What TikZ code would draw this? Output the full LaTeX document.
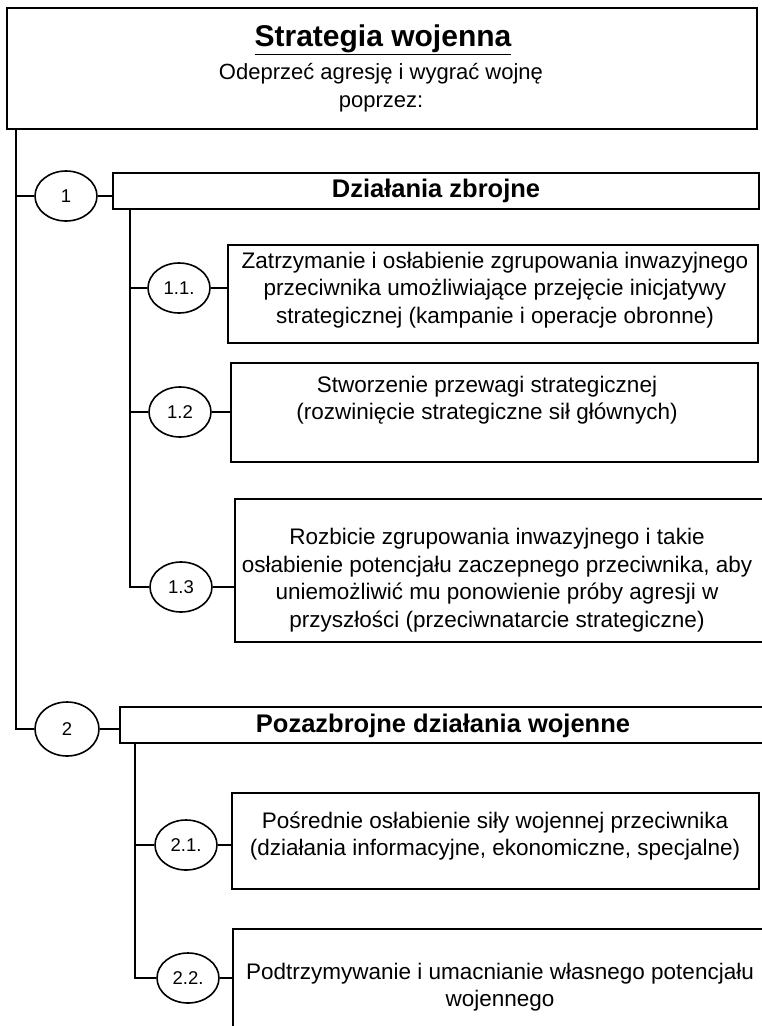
\documentclass[tikz,border=0pt]{standalone}
\usepackage{fontspec}
\setmainfont{Liberation Sans}
\usetikzlibrary{shapes.geometric}
\begin{document}
\begin{tikzpicture}[x=1pt,y=-1pt,
  frame/.style={draw,line width=1.6pt,inner sep=0pt},
  oval/.style={draw,ellipse,line width=1.6pt,inner sep=0pt,minimum width=62pt,minimum height=50pt,font=\fontsize{18.5}{22}\selectfont},
  body/.style={align=center,inner sep=0pt,font=\fontsize{22.5}{27.5}\selectfont},
  head/.style={inner sep=0pt,font=\fontsize{25.5}{30}\selectfont\bfseries},
  wire/.style={line width=1.6pt}]
\useasboundingbox (0,0) rectangle (761,1026);

% title box
\node[frame,minimum width=750pt,minimum height=121pt] (top) at (382,68.5) {};
\node[inner sep=0pt,font=\fontsize{30}{34}\selectfont\bfseries] (title) at (383,40) {\underline{Strategia wojenna}};
\node[body,font=\fontsize{22}{28}\selectfont] (goal) at (381,88) {Odeprzeć agresję i wygrać wojnę\\poprzez:};

% branch 1
\node[frame,minimum width=646pt,minimum height=36pt] (b1) at (436,191) {};
\node[head] (t1) at (436,191) {Działania zbrojne};
\node[oval] (c1) at (66,196) {1};

\node[frame,minimum width=530pt,minimum height=98pt] (b11) at (493,294) {};
\node[body] (t11) at (495,290) {Zatrzymanie i osłabienie zgrupowania inwazyjnego\\przeciwnika umożliwiające przejęcie inicjatywy\\strategicznej (kampanie i operacje obronne)};
\node[oval] (c11) at (179,288) {1.1.};

\node[frame,minimum width=527pt,minimum height=99pt] (b12) at (494.5,412.5) {};
\node[body] (t12) at (487,400) {Stworzenie przewagi strategicznej\\(rozwinięcie strategiczne sił głównych)};
\node[oval] (c12) at (180,412) {1.2};

\node[frame,minimum width=529pt,minimum height=143pt] (b13) at (499.5,570.5) {};
\node[body] (t13) at (497,580) {Rozbicie zgrupowania inwazyjnego i takie\\osłabienie potencjału zaczepnego przeciwnika, aby\\uniemożliwić mu ponowienie próby agresji w\\przyszłości (przeciwnatarcie strategiczne)};
\node[oval] (c13) at (181,587) {1.3};

% branch 2
\node[frame,minimum width=644pt,minimum height=36pt] (b2) at (442,725) {};
\node[head] (t2) at (443,726) {Pozazbrojne działania wojenne};
\node[oval,minimum width=64pt,minimum height=54pt] (c2) at (67,729) {2};

\node[frame,minimum width=527pt,minimum height=96pt] (b21) at (495.5,841) {};
\node[body] (t21) at (495,836) {Pośrednie osłabienie siły wojennej przeciwnika\\(działania informacyjne, ekonomiczne, specjalne)};
\node[oval] (c21) at (186,845) {2.1.};

\node[frame,minimum width=531pt,minimum height=106pt] (b22) at (498.5,982) {};
\node[body] (t22) at (500,987) {Podtrzymywanie i umacnianie własnego potencjału\\wojennego};
\node[oval] (c22) at (188,978) {2.2.};

% trunk lines
\coordinate (m) at (16,0);
\coordinate (s1) at (130,0);
\coordinate (s2) at (135,0);
\draw[wire] (top.south -| m) |- (c2.west);
\draw[wire] (c1.west -| m) -- (c1.west);
\draw[wire] (c1.east) -- (c1.east -| b1.west);
\draw[wire] (c2.east) -- (c2.east -| b2.west);

\draw[wire] (b1.south -| s1) |- (c13.west);
\draw[wire] (c11.west -| s1) -- (c11.west);
\draw[wire] (c12.west -| s1) -- (c12.west);
\draw[wire] (c11.east) -- (c11.east -| b11.west);
\draw[wire] (c12.east) -- (c12.east -| b12.west);
\draw[wire] (c13.east) -- (c13.east -| b13.west);

\draw[wire] (b2.south -| s2) |- (c22.west);
\draw[wire] (c21.west -| s2) -- (c21.west);
\draw[wire] (c21.east) -- (c21.east -| b21.west);
\draw[wire] (c22.east) -- (c22.east -| b22.west);
\end{tikzpicture}
\end{document}
